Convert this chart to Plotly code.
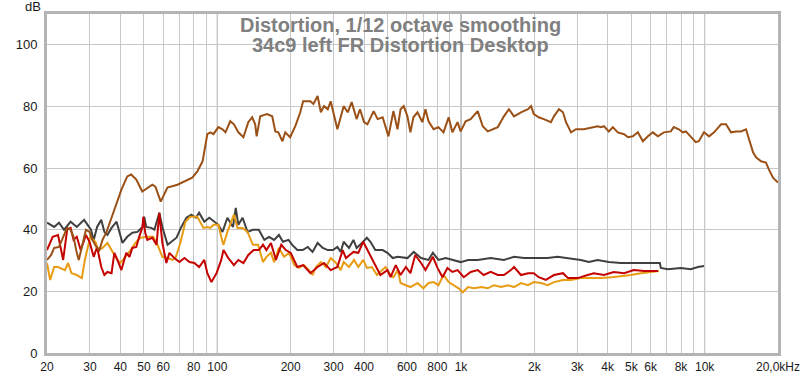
import plotly.graph_objects as go

# ---------------- data ----------------
fund_f = [20.0, 20.8, 21.4, 22.4, 23.5, 24.2, 25.0, 25.7, 26.5, 27.0, 27.8, 28.9, 29.9, 30.7, 31.9, 32.8, 33.8, 35.1,
          36.8, 38.6, 40.4, 42.7, 44.3, 46.5, 49.2, 54.1, 55.7, 58.6, 62.4, 68.6, 75.4, 78.9, 82.8, 87.0, 91.0, 93.7,
          96.4, 101, 105, 108, 113, 117, 122, 128, 134, 139, 143, 145, 150, 160, 168, 173, 178, 185, 190, 199, 209,
          219, 225, 241, 248, 258, 266, 274, 284, 292, 311, 330, 343, 356, 373, 385, 400, 413, 438, 455, 477, 504,
          528, 549, 565, 582, 603, 620, 638, 663, 694, 715, 736, 772, 808, 848, 890, 922, 968, 997, 1045, 1096, 1171,
          1228, 1288, 1350, 1416, 1500, 1573, 1650, 1763, 1884, 1939, 1990, 2085, 2187, 2339, 2407, 2524, 2622, 2698,
          2829, 2966, 3192, 3508, 3643, 3750, 3860, 4042, 4200, 4400, 4670, 4850, 5072, 5320, 5580, 5850, 6127, 6430,
          6800, 7265, 7470, 7830, 8137, 8370, 8770, 9197, 9460, 9940, 10420, 10930, 11680, 12240, 12830, 13450, 14100,
          14780, 15800, 16250, 17040, 17850, 18360, 19070, 20000]
fund_db = [30.2, 31.8, 34.1, 34.4, 38.3, 40.6, 40.0, 37.7, 32.5, 30.2, 34.4, 40.0, 39.3, 36.7, 34.4, 33.4, 36.7, 39.3,
           43.9, 48.8, 53.0, 57.3, 57.9, 56.3, 52.4, 54.6, 54.0, 49.1, 53.7, 54.6, 56.3, 56.9, 58.9, 62.2, 71.0, 71.6,
           71.0, 73.3, 72.6, 71.6, 75.2, 74.2, 71.6, 70.0, 74.9, 76.5, 74.2, 70.3, 76.8, 77.5, 76.8, 71.9, 71.6, 68.7,
           71.6, 70.0, 73.6, 78.1, 81.7, 81.7, 80.8, 83.4, 78.1, 80.1, 79.1, 81.7, 72.6, 80.1, 78.1, 81.4, 75.9, 79.1,
           74.9, 74.2, 78.5, 75.9, 76.5, 70.3, 78.5, 72.6, 79.1, 80.1, 76.8, 71.6, 76.5, 78.1, 74.9, 79.1, 75.2, 72.6,
           73.3, 71.6, 76.5, 71.6, 74.9, 71.9, 75.2, 75.9, 78.5, 73.6, 71.9, 72.6, 73.3, 76.8, 79.1, 76.8, 78.1, 79.1,
           80.1, 77.5, 76.5, 75.9, 74.9, 76.8, 79.1, 78.1, 74.9, 71.6, 72.6, 72.6, 73.3, 73.6, 73.3, 73.6, 71.9, 73.3,
           71.6, 71.0, 70.0, 70.3, 71.6, 68.7, 70.3, 71.6, 70.3, 71.6, 71.9, 73.3, 72.6, 71.6, 71.9, 70.3, 68.4, 68.7,
           71.6, 70.3, 71.6, 74.2, 74.2, 71.6, 71.9, 71.9, 72.6, 65.1, 63.5, 62.2, 61.8, 59.5, 56.9, 55.3]

thd_f = [20.0, 21.4, 22.4, 23.5, 25.0, 26.5, 28.4, 30.3, 31.1, 32.1, 33.4, 34.4, 35.4, 36.8, 38.6, 39.6, 40.8, 42.7,
         44.8, 47.0, 49.3, 50.1, 51.1, 53.6, 55.2, 57.8, 59.5, 62.5, 65.0, 68.0, 71.2, 74.7, 78.2, 81.7, 84.2, 88.4,
         92.7, 97.3, 101, 105, 110, 116, 119, 122, 127, 133, 140, 148, 156, 163, 171, 179, 186, 196, 203, 213, 224,
         235, 246, 258, 271, 284, 298, 311, 321, 330, 347, 362, 373, 392, 411, 425, 445, 477, 499, 525, 550, 603,
         640, 686, 735, 767, 808, 866, 922, 997, 1068, 1171, 1324, 1500, 1650, 1813, 2065, 2270, 2490, 2750, 3100,
         3350, 3640, 4040, 4530, 4980, 5640, 6430, 6550, 6610, 7060, 7980, 8770, 9380, 9940]
thd_db = [42.3, 40.9, 42.3, 40.0, 42.6, 40.9, 43.2, 40.0, 36.7, 40.9, 43.2, 39.3, 38.3, 40.6, 42.6, 39.3, 35.7, 37.7,
          39.0, 39.3, 40.9, 44.2, 40.9, 40.6, 40.0, 45.5, 40.9, 35.1, 36.1, 37.4, 40.9, 43.9, 44.9, 43.9, 45.5, 42.6,
          43.9, 42.6, 41.6, 39.3, 43.9, 40.9, 47.1, 41.6, 43.9, 39.3, 40.0, 40.0, 36.7, 37.7, 36.7, 38.3, 36.1, 36.7,
          35.1, 33.4, 33.4, 34.4, 32.8, 35.7, 34.1, 33.4, 33.4, 34.4, 32.8, 36.1, 34.1, 36.7, 34.1, 35.7, 37.4, 36.1,
          33.4, 33.4, 32.5, 30.8, 31.2, 30.8, 32.8, 30.8, 30.2, 32.5, 30.2, 30.8, 30.2, 29.5, 30.2, 30.2, 30.8, 30.2,
          31.2, 30.8, 30.8, 30.8, 31.2, 30.8, 30.2, 29.5, 30.2, 29.5, 29.2, 29.2, 29.2, 29.2, 29.2, 27.6, 27.2, 27.6,
          27.2, 27.9, 28.2]

h2_f = [20.0, 21.1, 22.2, 23.3, 24.2, 25.0, 25.7, 26.5, 27.5, 28.9, 29.9, 31.1, 32.1, 33.4, 34.4, 35.4, 36.8, 37.8,
        38.9, 40.4, 42.3, 43.6, 44.8, 46.5, 47.8, 49.3, 49.7, 50.6, 51.6, 54.1, 56.3, 57.8, 59.5, 61.8, 63.6, 66.6,
        69.9, 73.3, 76.9, 80.5, 84.2, 88.4, 91.0, 94.6, 99.3, 103.8, 106, 111, 117, 122, 128, 134, 141, 148, 154, 159,
        166, 174, 183, 191, 200, 213, 225, 241, 258, 274, 292, 311, 327, 337, 362, 379, 397, 425, 445, 467, 486, 499,
        514, 540, 565, 594, 620, 649, 686, 715, 767, 801, 840, 880, 922, 968, 1027, 1096, 1171, 1239, 1324, 1416,
        1500, 1603, 1650, 1763, 1884, 1990, 2085, 2230, 2407, 2622, 2750, 3014, 3310, 3508, 3860, 4240, 4670, 5120,
        5640, 6430]
h2_db = [33.4, 37.7, 38.3, 30.2, 40.0, 40.6, 36.7, 37.7, 33.4, 38.3, 36.1, 31.2, 34.4, 27.9, 25.3, 26.3, 25.9, 32.5,
         30.2, 26.9, 32.5, 31.2, 34.1, 34.4, 37.7, 40.9, 44.2, 39.0, 36.7, 37.4, 35.1, 45.5, 35.7, 29.2, 32.5, 30.8,
         29.5, 30.8, 29.5, 29.2, 27.9, 30.2, 25.9, 23.0, 25.9, 30.2, 33.4, 30.8, 28.5, 30.2, 29.2, 31.8, 33.4, 33.4,
         35.1, 33.4, 35.7, 30.2, 35.1, 33.4, 32.5, 27.9, 28.5, 25.9, 27.9, 29.2, 26.9, 27.9, 33.4, 30.8, 32.8, 32.5,
         36.1, 31.8, 28.5, 25.3, 26.3, 26.9, 24.6, 28.5, 25.3, 27.9, 25.9, 31.8, 29.2, 26.9, 31.2, 27.6, 24.6, 27.6,
         26.3, 26.9, 24.6, 26.3, 26.9, 25.3, 26.3, 25.3, 25.3, 26.9, 27.9, 25.3, 25.9, 25.9, 24.6, 23.7, 25.3, 25.9,
         24.3, 24.3, 25.3, 25.9, 25.3, 26.3, 25.9, 26.9, 26.6, 26.6]

h3_f = [20.0, 20.6, 21.4, 22.2, 23.7, 24.4, 25.2, 26.5, 27.8, 28.6, 30.1, 31.6, 32.5, 33.8, 35.4, 37.1, 38.9, 40.0,
        42.0, 44.1, 46.1, 48.3, 51.6, 54.6, 57.3, 59.5, 62.5, 65.6, 67.6, 70.5, 74.0, 77.4, 82.8, 85.0, 87.7, 91.0,
        93.7, 96.4, 101, 105, 106, 110, 113, 117, 121, 127, 133, 140, 147, 154, 159, 166, 171, 179, 188, 197, 207,
        216, 227, 238, 246, 254, 266, 279, 292, 307, 321, 330, 347, 364, 379, 397, 411, 431, 452, 477, 490, 514, 528,
        550, 565, 594, 620, 663, 701, 736, 772, 808, 848, 890, 931, 978, 1017, 1068, 1131, 1213, 1288, 1366, 1460,
        1560, 1650, 1763, 1884, 1990, 2130, 2270, 2407, 2622, 2829, 3100, 3420, 3750, 4160, 4530, 4980, 5480, 6000,
        6490]
h3_db = [29.2, 23.7, 27.9, 27.9, 26.9, 29.2, 25.9, 25.3, 24.3, 30.2, 37.7, 36.1, 33.4, 34.1, 35.7, 32.8, 30.2, 29.2,
         31.2, 33.4, 35.7, 37.4, 37.7, 37.7, 34.4, 31.2, 30.8, 30.2, 31.2, 35.7, 42.6, 44.2, 44.2, 42.6, 40.6, 40.9,
         40.6, 41.6, 41.6, 36.1, 35.1, 39.3, 41.6, 44.9, 40.6, 40.6, 39.3, 35.1, 35.1, 29.5, 31.2, 32.5, 29.5, 34.1,
         31.2, 32.5, 28.5, 27.6, 28.5, 26.9, 25.3, 27.9, 29.5, 27.9, 30.8, 29.2, 26.9, 29.5, 27.9, 30.2, 27.9, 30.2,
         27.6, 27.9, 25.3, 26.9, 27.9, 25.3, 24.6, 26.9, 22.7, 22.0, 21.4, 22.7, 21.0, 22.7, 23.0, 22.0, 25.3, 23.0,
         22.0, 21.0, 19.7, 21.4, 21.0, 21.4, 21.0, 22.0, 21.4, 22.0, 21.4, 22.7, 22.0, 23.0, 22.7, 22.0, 23.0, 23.7,
         23.7, 24.3, 24.3, 24.3, 24.6, 24.9, 25.3, 25.9, 26.3, 26.6]

grid_vals = [20, 30, 40, 50, 60, 70, 80, 90, 100, 200, 300, 400, 500, 600, 700, 800, 900,
             1000, 2000, 3000, 4000, 5000, 6000, 7000, 8000, 9000, 10000, 20000]
grid_text = ["20", "30", "40", "50", "60", "", "80", "", "100", "200", "300", "400", "", "600", "", "800", "",
             "1k", "2k", "3k", "4k", "5k", "6k", "", "8k", "", "10k", "20,0kHz"]
y_ticks = [0, 20, 40, 60, 80, 100]
decades = [100, 1000, 10000]
title_lines = ["Distortion, 1/12 octave smoothing", "34c9 left FR Distortion Desktop"]

# ---------------- figure ----------------
W, H = 800, 374
ml, mr, mt, mb = 47, 22, 14, 21

fig = go.Figure()
series = [
    (thd_f, thd_db, "#404040"),
    (h3_f, h3_db, "#e89c14"),
    (h2_f, h2_db, "#c40000"),
    (fund_f, fund_db, "#9b5016"),
]
for fx, fy, col in series:
    fig.add_trace(go.Scatter(x=fx, y=fy, mode="lines", line=dict(color=col, width=2),
                             hoverinfo="skip", showlegend=False))

for d in decades:
    fig.add_shape(type="line", x0=d, x1=d, xref="x", y0=0, y1=1, yref="paper",
                  line=dict(color="#7a7a7a", width=1), layer="below")

fig.update_xaxes(type="log", range=[1.30103, 4.30103], tickvals=grid_vals, ticktext=grid_text,
                 showgrid=True, gridcolor="#c8c8c8", gridwidth=1, ticks="", ticklabelstandoff=1,
                 ticklabeloverflow="allow", automargin=False,
                 showline=True, linecolor="#b4b4b4", linewidth=3, mirror=True, zeroline=False,
                 tickfont=dict(family="Liberation Sans, Arial", size=12, color="#1a1a1a"))
fig.update_yaxes(range=[0, 110], tickvals=y_ticks, showgrid=True, gridcolor="#c8c8c8",
                 gridwidth=1, ticks="", ticklabelstandoff=4, showline=True, linecolor="#b4b4b4",
                 linewidth=3, mirror=True, zeroline=False, automargin=False,
                 tickfont=dict(family="Liberation Sans, Arial", size=13, color="#1a1a1a"))

def py(pix):
    return 1 - (pix - mt) / (H - mt - mb)

fig.add_annotation(text="dB", x=(33 - ml) / (W - ml - mr), y=py(6), xref="paper", yref="paper",
                   showarrow=False, xanchor="center", yanchor="middle",
                   font=dict(family="Liberation Sans, Arial", size=13, color="#1a1a1a"))
for t, cy in zip(title_lines, [25, 45]):
    fig.add_annotation(text="<b>%s</b>" % t, x=(400 - ml) / (W - ml - mr), y=py(cy), xref="paper",
                       yref="paper", showarrow=False, xanchor="center", yanchor="middle",
                       font=dict(family="Liberation Sans, Arial", size=20, color="#808080"))

fig.update_layout(width=W, height=H, margin=dict(l=ml, r=mr, t=mt, b=mb),
                  paper_bgcolor="white", plot_bgcolor="white")
fig.write_html("out.html", config={"displayModeBar": False},
               post_script="document.body.style.margin='0';document.body.style.overflow='hidden';")
